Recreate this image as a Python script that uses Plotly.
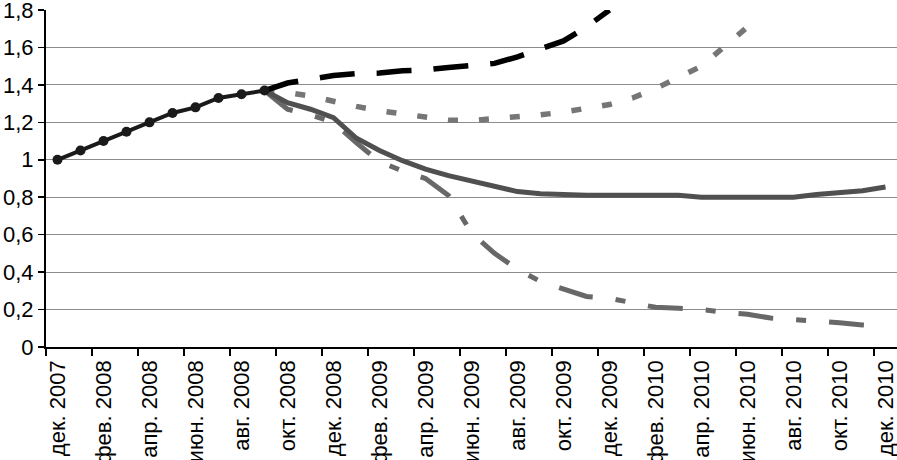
import plotly.graph_objects as go

# ---- data ----
months = [
    "дек. 2007", "янв. 2008", "фев. 2008", "мар. 2008", "апр. 2008", "май 2008",
    "июн. 2008", "июл. 2008", "авг. 2008", "сен. 2008", "окт. 2008", "ноя. 2008",
    "дек. 2008", "янв. 2009", "фев. 2009", "мар. 2009", "апр. 2009", "май 2009",
    "июн. 2009", "июл. 2009", "авг. 2009", "сен. 2009", "окт. 2009", "ноя. 2009",
    "дек. 2009", "янв. 2010", "фев. 2010", "мар. 2010", "апр. 2010", "май 2010",
    "июн. 2010", "июл. 2010", "авг. 2010", "сен. 2010", "окт. 2010", "ноя. 2010",
    "дек. 2010",
]

actual = [1.00, 1.05, 1.10, 1.15, 1.20, 1.25, 1.28, 1.33, 1.35, 1.37]          # дек.2007 - сен.2008
scen_growth = [1.37, 1.41, 1.43, 1.45, 1.46, 1.463, 1.475, 1.48, 1.493, 1.505,
               1.515, 1.55, 1.59, 1.635, 1.71, 1.80]                            # from сен.2008
scen_dotted = [1.37, 1.36, 1.34, 1.31, 1.285, 1.262, 1.245, 1.226, 1.212, 1.21,
               1.218, 1.23, 1.24, 1.255, 1.275, 1.295, 1.33, 1.38, 1.44, 1.50,
               1.605, 1.71]                                                     # from сен.2008
scen_solid = [1.37, 1.305, 1.27, 1.225, 1.115, 1.05, 0.995, 0.95, 0.915, 0.885,
              0.855, 0.83, 0.818, 0.812, 0.81, 0.81, 0.81, 0.81, 0.81, 0.80,
              0.80, 0.80, 0.80, 0.80, 0.815, 0.825, 0.835, 0.855]               # from сен.2008
scen_dashdot = [1.37, 1.27, 1.24, 1.20, 1.09, 0.99, 0.94, 0.90, 0.81, 0.61,
                0.50, 0.415, 0.35, 0.31, 0.27, 0.26, 0.235, 0.212, 0.207, 0.20,
                0.185, 0.175, 0.155, 0.148, 0.143, 0.13, 0.118, 0.11]           # from сен.2008
split_index = 9  # сен. 2008
y_ticks = [0, 0.2, 0.4, 0.6, 0.8, 1.0, 1.2, 1.4, 1.6, 1.8]

# ---- figure ----
def xs(start, n):
    return list(range(start, start + n))

fig = go.Figure()

fig.add_trace(go.Scatter(
    x=xs(split_index, len(scen_dotted)), y=scen_dotted, mode="lines",
    line=dict(color="#767676", width=5.5, dash="10px,21px"), hoverinfo="skip"))
fig.add_trace(go.Scatter(
    x=xs(split_index, len(scen_dashdot)), y=scen_dashdot, mode="lines",
    line=dict(color="#686868", width=5, dash="35px,23px,10px,23px"), hoverinfo="skip"))
fig.add_trace(go.Scatter(
    x=xs(split_index, len(scen_solid)), y=scen_solid, mode="lines",
    line=dict(color="#505050", width=5), hoverinfo="skip"))
fig.add_trace(go.Scatter(
    x=xs(split_index, len(scen_growth)), y=scen_growth, mode="lines",
    line=dict(color="#000000", width=5.5, dash="35px,22px"), hoverinfo="skip"))
fig.add_trace(go.Scatter(
    x=xs(0, len(actual)), y=actual, mode="lines+markers",
    line=dict(color="#1a1a1a", width=4),
    marker=dict(symbol="circle", size=10, color="#1a1a1a"), hoverinfo="skip"))

font = dict(family="Liberation Sans, Arial, sans-serif", size=22, color="#000000")

tick_positions = list(range(0, len(months), 2))
fig.update_layout(
    template="none",
    width=897, height=460,
    margin=dict(l=46, r=0, t=10, b=113, autoexpand=False),
    paper_bgcolor="white", plot_bgcolor="white",
    showlegend=False,
    separators=", ",
    font=font,
    xaxis=dict(
        automargin=False,
        range=[-0.5, len(months) - 0.5],
        tickmode="array",
        tickvals=tick_positions,
        ticktext=[months[i] for i in tick_positions],
        tickangle=-90,
        ticks="outside", ticklen=3, tickcolor="rgba(0,0,0,0)",
        showgrid=False, zeroline=False,
        showline=True, linecolor="#000000", linewidth=1.5,
        minor=dict(
            tickmode="array",
            tickvals=[i - 0.5 for i in tick_positions],
            ticks="outside", ticklen=7, tickwidth=1.5, tickcolor="#000000",
            showgrid=False,
        ),
        tickfont=font,
        ticklabeloverflow="allow",
    ),
    yaxis=dict(
        automargin=False,
        range=[0, 1.8001],
        tickmode="array",
        tickvals=y_ticks,
        ticks="outside", ticklen=6, tickwidth=1.5, tickcolor="#000000",
        showgrid=True, gridcolor="#8c8c8c", gridwidth=1,
        zeroline=False,
        showline=True, linecolor="#000000", linewidth=2,
        tickfont=font,
        ticklabeloverflow="allow",
    ),
)

fig.write_html(
    "out.html",
    config={"displayModeBar": False, "staticPlot": True},
    post_script="document.body.style.margin='0';document.body.style.padding='0';",
)
